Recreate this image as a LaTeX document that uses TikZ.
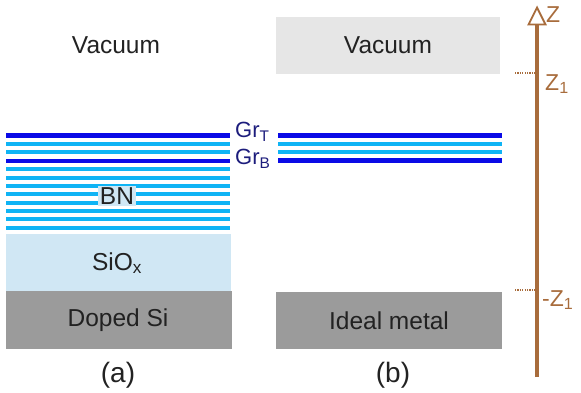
\documentclass[tikz,border=0pt]{standalone}
\usepackage{fontspec}
\setmainfont{Liberation Sans}
\definecolor{dkblue}{HTML}{0A0AE6}
\definecolor{ltblue}{HTML}{0FB4F5}
\definecolor{sio}{HTML}{D0E7F4}
\definecolor{sigray}{HTML}{9B9B9B}
\definecolor{vacgray}{HTML}{E6E6E6}
\definecolor{axbrown}{HTML}{A86C3C}
\definecolor{txt}{HTML}{222222}
\definecolor{grtxt}{HTML}{1C1C7C}
\tikzset{
  big/.style={font=\fontsize{24.5}{28}\selectfont, text=txt, inner sep=0pt},
  panellabel/.style={font=\fontsize{28}{32}\selectfont, text=txt, inner sep=0pt},
  grlab/.style={font=\fontsize{22}{25}\selectfont, text=grtxt, inner sep=0pt, anchor=west},
  zlab/.style={font=\fontsize{23}{26}\selectfont, text=axbrown, inner sep=0pt, anchor=west},
  darkline/.style={draw=dkblue, line width=4.5pt},
  lightline/.style={draw=ltblue, line width=4pt},
  tickline/.style={draw=axbrown, line width=1.6pt, dash pattern=on 1.2pt off 1.2pt}
}
\begin{document}
\begin{tikzpicture}[x=1pt,y=-1pt]
\useasboundingbox (0,0) rectangle (581,392);
% left panel
\node[big] (vaca) at (116,45) {Vacuum};
\foreach \i in {0,...,11} {
  \pgfmathsetmacro{\yy}{135.7+8.36*\i}
  \ifnum\i=0 \draw[darkline] (6,\yy) -- (230,\yy);
  \else\ifnum\i=3 \draw[darkline] (6,\yy) -- (230,\yy);
  \else \draw[lightline] (6,\yy) -- (230,\yy);
  \fi\fi
}
\node[big, fill=sio, inner sep=2pt] (bn) at (117,196) {BN};
\fill[sio] (6,234) rectangle (231,291);
\node[big] (siox) at (117,263) {SiO$_{\mathrm{x}}$};
\fill[sigray] (5.5,291) rectangle (231.5,348.5);
\node[big] (dsi) at (118,320) {Doped Si};
\node[panellabel] (la) at (118,375) {(a)};
% labels
\node[grlab] (grt) at (235,132) {Gr$_{\mathrm{T}}$};
\node[grlab] (grb) at (235,159) {Gr$_{\mathrm{B}}$};
% right panel
\fill[vacgray] (276,17) rectangle (500,73.5);
\node[big] (vacb) at (388,45) {Vacuum};
\draw[darkline] (278,135.7) -- (502,135.7);
\draw[lightline] (278,144.2) -- (502,144.2);
\draw[lightline] (278,152.4) -- (502,152.4);
\draw[darkline] (278,160.3) -- (502,160.3);
\fill[sigray] (276,292.3) rectangle (502,349.3);
\node[big] (metal) at (389,321) {Ideal metal};
\node[panellabel] (lb) at (393,375) {(b)};
% axis
\coordinate (axbot) at (537,377);
\coordinate (axtop) at (537,24);
\draw[axbrown, line width=4pt] (axbot) -- (axtop);
\draw[axbrown, line width=1.8pt, fill=white, line join=miter] (537,7.5) -- (545.5,24.5) -- (528.5,24.5) -- cycle;
\node[zlab] (zl) at (546,15) {Z};
\coordinate (t1a) at (515,72.7);
\coordinate (t1b) at (535,72.7);
\coordinate (t2a) at (515,290);
\coordinate (t2b) at (535,290);
\draw[tickline] (t1a) -- (t1b);
\draw[tickline] (t2a) -- (t2b);
\node[zlab] (z1) at (545,84) {Z$_{\mathrm{1}}$};
\node[zlab] (mz1) at (542,300) {-Z$_{\mathrm{1}}$};
\end{tikzpicture}
\end{document}
